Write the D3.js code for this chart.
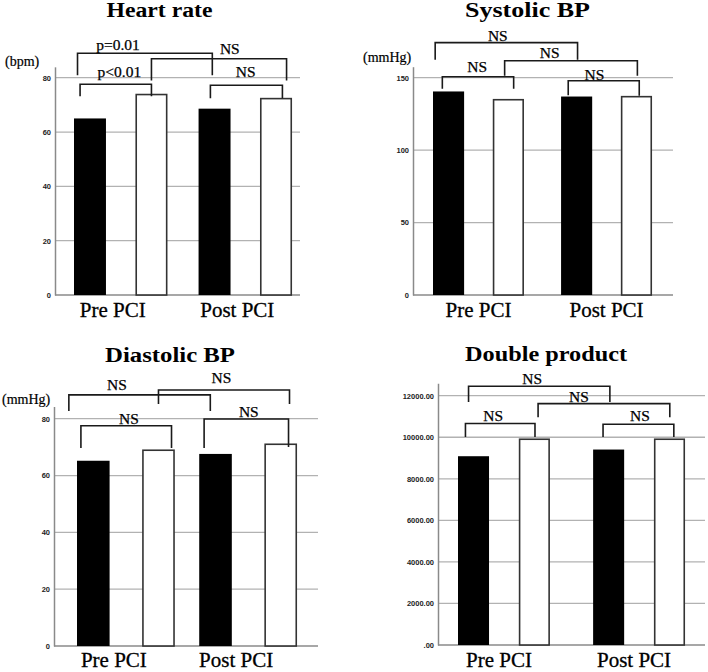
<!DOCTYPE html>
<html><head><meta charset="utf-8">
<script src="https://cdn.jsdelivr.net/npm/d3@7"></script>
<style>body{margin:0;background:#fff}svg{display:block}</style>
</head><body>
<script>
// ---------- data ----------
const categories = ["Pre PCI", "Post PCI"];
const seriesNames = ["black", "white"];

const heartRateBlack = [65.0, 68.6];
const heartRateWhite = [73.8, 72.3];
const heartRateTicks = [0, 20, 40, 60, 80];
const heartRateTickLabels = ["0", "20", "40", "60", "80"];

const systolicBlack = [140.5, 137.0];
const systolicWhite = [134.8, 136.9];
const systolicTicks = [0, 50, 100, 150];
const systolicTickLabels = ["0", "50", "100", "150"];

const diastolicBlack = [65.2, 67.6];
const diastolicWhite = [68.9, 71.0];
const diastolicTicks = [0, 20, 40, 60, 80];
const diastolicTickLabels = ["0", "20", "40", "60", "80"];

const doubleBlack = [9087, 9408];
const doubleWhite = [9904, 9904];
const doubleTicks = [0, 2000, 4000, 6000, 8000, 10000, 12000];
const doubleTickLabels = [".00", "2000.00", "4000.00", "6000.00", "8000.00", "10000.00", "12000.00"];

// comparison brackets: legs given as [bar index, fraction across bar]; heights in data units
const heartRateBrackets = [
  {label: "p<0.01", from: [0, 0.19], to: [1, 0.5], top: 77.6, legL: 73.2, legR: 73.2, lx: 0.55, ly: 80.1},
  {label: "p=0.01", from: [0, 0.11], to: [2, 0.43], top: 89.0, legL: 80.9, legR: 80.9, lx: 0.30, ly: 90.2},
  {label: "NS", from: [2, 0.37], to: [3, 0.70], top: 77.2, legL: 72.4, legR: 72.4, lx: 0.49, ly: 80.1},
  {label: "NS", from: [1, 0.5], to: [3, 0.83], top: 87.0, legL: 79.0, legR: 79.0, lx: 0.58, ly: 88.6}
];
const systolicBrackets = [
  {label: "NS", from: [0, 0.30], to: [1, 0.67], top: 150.7, legL: 142.4, legR: 142.4, lx: 0.49, ly: 154.1},
  {label: "NS", from: [0, 0.07], to: [2, 0.53], top: 174.2, legL: 162.4, legR: 162.4, lx: 0.44, ly: 175.1},
  {label: "NS", from: [1, 0.38], to: [3, 0.53], top: 161.7, legL: 151.4, legR: 151.4, lx: 0.34, ly: 163.8},
  {label: "NS", from: [2, 0.23], to: [3, 0.59], top: 147.9, legL: 137.9, legR: 137.5, lx: 0.37, ly: 148.6}
];
const diastolicBrackets = [
  {label: "NS", from: [0, 0.12], to: [1, 0.90], top: 77.5, legL: 69.7, legR: 69.7, lx: 0.53, ly: 78.2},
  {label: "NS", from: [0, -0.25], to: [2, 0.34], top: 88.4, legL: 82.7, legR: 82.7, lx: 0.34, ly: 90.1},
  {label: "NS", from: [1, 0.50], to: [3, 0.77], top: 90.1, legL: 85.2, legR: 85.2, lx: 0.48, ly: 92.6},
  {label: "NS", from: [2, 0.15], to: [3, 0.74], top: 79.9, legL: 69.7, legR: 70.0, lx: 0.53, ly: 80.6}
];
const doubleBrackets = [
  {label: "NS", from: [0, 0.24], to: [1, 0.52], top: 10659, legL: 10014, legR: 10014, lx: 0.40, ly: 10769},
  {label: "NS", from: [0, 0.34], to: [2, 0.54], top: 12452, legL: 11697, legR: 11697, lx: 0.45, ly: 12548},
  {label: "NS", from: [1, 0.62], to: [3, 0.51], top: 11620, legL: 10962, legR: 10962, lx: 0.31, ly: 11697},
  {label: "NS", from: [2, 0.32], to: [3, 0.64], top: 10625, legL: 10014, legR: 10014, lx: 0.52, ly: 10769}
];

// ---------- layout ----------
const panels = [
  {title: "Heart rate", unit: "(bpm)", black: heartRateBlack, white: heartRateWhite,
   ticks: heartRateTicks, tickLabels: heartRateTickLabels, brackets: heartRateBrackets,
   axisX: 55, rightX: 300, baseY: 295, topTickY: 77.7, yMax: 84,
   barRange: [74, 292], outerPad: 0.25, innerPad: 0.48,
   titleX: 159.5, titleY: 17, titleW: 106, unitX: 5, unitY: 66, catY: 317, catOff: -8},
  {title: "Systolic BP", unit: "(mmHg)", black: systolicBlack, white: systolicWhite,
   ticks: systolicTicks, tickLabels: systolicTickLabels, brackets: systolicBrackets,
   axisX: 413, rightX: 673, baseY: 295, topTickY: 77.7, yMax: 157.6,
   barRange: [433, 652], outerPad: 0.29, innerPad: 0.48,
   titleX: 527.5, titleY: 17, titleW: 125, unitX: 363, unitY: 62, catY: 317, catOff: 0},
  {title: "Diastolic BP", unit: "(mmHg)", black: diastolicBlack, white: diastolicWhite,
   ticks: diastolicTicks, tickLabels: diastolicTickLabels, brackets: diastolicBrackets,
   axisX: 54, rightX: 318, baseY: 646, topTickY: 418.7, yMax: 84.3,
   barRange: [77, 297], outerPad: 0.2, innerPad: 0.5,
   titleX: 170, titleY: 362, titleW: 130, unitX: 2, unitY: 404, catY: 667, catOff: -12},
  {title: "Double product", unit: null, black: doubleBlack, white: doubleWhite,
   ticks: doubleTicks, tickLabels: doubleTickLabels, brackets: doubleBrackets,
   axisX: 438, rightX: 705, baseY: 645, topTickY: 395.7, yMax: 12600,
   barRange: [458, 685], outerPad: 0.32, innerPad: 0.49,
   titleX: 546, titleY: 361, titleW: 162, unitX: 0, unitY: 0, catY: 667, catOff: -5}
];

const W = 708, H = 672;
const serif = "'Liberation Serif', 'Times New Roman', serif";
const sans = "'Liberation Sans', Arial, sans-serif";

const svg = d3.select("body").append("svg").attr("width", W).attr("height", H);

panels.forEach(p => {
  const g = svg.append("g");
  const topTick = p.ticks[p.ticks.length - 1];
  const pxPerUnit = (p.baseY - p.topTickY) / topTick;
  const y = d3.scaleLinear().domain([0, p.yMax]).range([p.baseY, p.baseY - pxPerUnit * p.yMax]);

  const xOuter = d3.scaleBand().domain(categories).range(p.barRange).paddingInner(p.outerPad).paddingOuter(0);
  const xInner = d3.scaleBand().domain(seriesNames).range([0, xOuter.bandwidth()]).paddingInner(p.innerPad).paddingOuter(0);
  const bw = xInner.bandwidth();

  const bars = [];
  categories.forEach((c, i) => {
    bars.push({cat: c, s: "black", v: p.black[i]});
    bars.push({cat: c, s: "white", v: p.white[i]});
  });
  const barLeft = idx => xOuter(bars[idx].cat) + xInner(bars[idx].s);

  // gridlines
  g.selectAll("line.grid").data(p.ticks.filter(t => t > 0)).join("line")
    .attr("x1", p.axisX).attr("x2", p.rightX)
    .attr("y1", d => y(d)).attr("y2", d => y(d))
    .attr("stroke", "#b2b2b2").attr("stroke-width", 1.3);

  // baseline
  g.append("line").attr("x1", p.axisX).attr("x2", p.rightX)
    .attr("y1", y(0)).attr("y2", y(0)).attr("stroke", "#8a8a8a").attr("stroke-width", 1.5);

  // y axis
  const axis = d3.axisLeft(y).tickValues(p.ticks).tickSize(0).tickSizeOuter(0).tickPadding(4)
    .tickFormat((d, i) => p.tickLabels[i]);
  const ag = g.append("g").attr("transform", `translate(${p.axisX},0)`).call(axis);
  ag.select(".domain").attr("stroke", "#8a8a8a").attr("stroke-width", 1.5);
  ag.selectAll("text").attr("font-family", sans).attr("font-weight", "bold")
    .attr("font-size", 7.5).attr("fill", "#222");

  // bars
  g.selectAll("rect.bar").data(bars).join("rect")
    .attr("x", d => xOuter(d.cat) + xInner(d.s) + (d.s === "white" ? 0.75 : 0))
    .attr("width", d => bw - (d.s === "white" ? 1.5 : 0))
    .attr("y", d => y(d.v))
    .attr("height", d => y(0) - y(d.v))
    .attr("fill", d => d.s === "black" ? "#000" : "#fff")
    .attr("stroke", d => d.s === "white" ? "#333" : "none")
    .attr("stroke-width", 1.6);

  // category labels
  g.selectAll("text.cat").data(categories).join("text")
    .attr("x", c => xOuter(c) + xOuter.bandwidth() / 2 + p.catOff)
    .attr("y", p.catY)
    .attr("text-anchor", "middle")
    .attr("font-family", serif).attr("font-size", 21).attr("fill", "#000")
    .attr("stroke", "#000").attr("stroke-width", 0.3)
    .text(c => c);

  // brackets
  p.brackets.forEach(b => {
    const xl = barLeft(b.from[0]) + b.from[1] * bw;
    const xr = barLeft(b.to[0]) + b.to[1] * bw;
    g.append("path")
      .attr("d", `M${xl},${y(b.legL)}V${y(b.top)}H${xr}V${y(b.legR)}`)
      .attr("fill", "none").attr("stroke", "#1a1a1a").attr("stroke-width", 1.6);
    g.append("text")
      .attr("x", xl + (xr - xl) * b.lx).attr("y", y(b.ly))
      .attr("text-anchor", "middle")
      .attr("font-family", serif).attr("font-size", 15.5).attr("fill", "#000")
      .attr("stroke", "#000").attr("stroke-width", 0.25)
      .text(b.label);
  });

  // title
  g.append("text").attr("x", p.titleX).attr("y", p.titleY)
    .attr("text-anchor", "middle")
    .attr("font-family", serif).attr("font-weight", "bold").attr("font-size", 20)
    .attr("textLength", p.titleW).attr("lengthAdjust", "spacingAndGlyphs")
    .attr("fill", "#000").text(p.title);

  // unit
  if (p.unit) {
    g.append("text").attr("x", p.unitX).attr("y", p.unitY)
      .attr("font-family", serif).attr("font-size", 14).attr("fill", "#000")
      .attr("stroke", "#000").attr("stroke-width", 0.2)
      .text(p.unit);
  }
});
</script>
</body></html>
